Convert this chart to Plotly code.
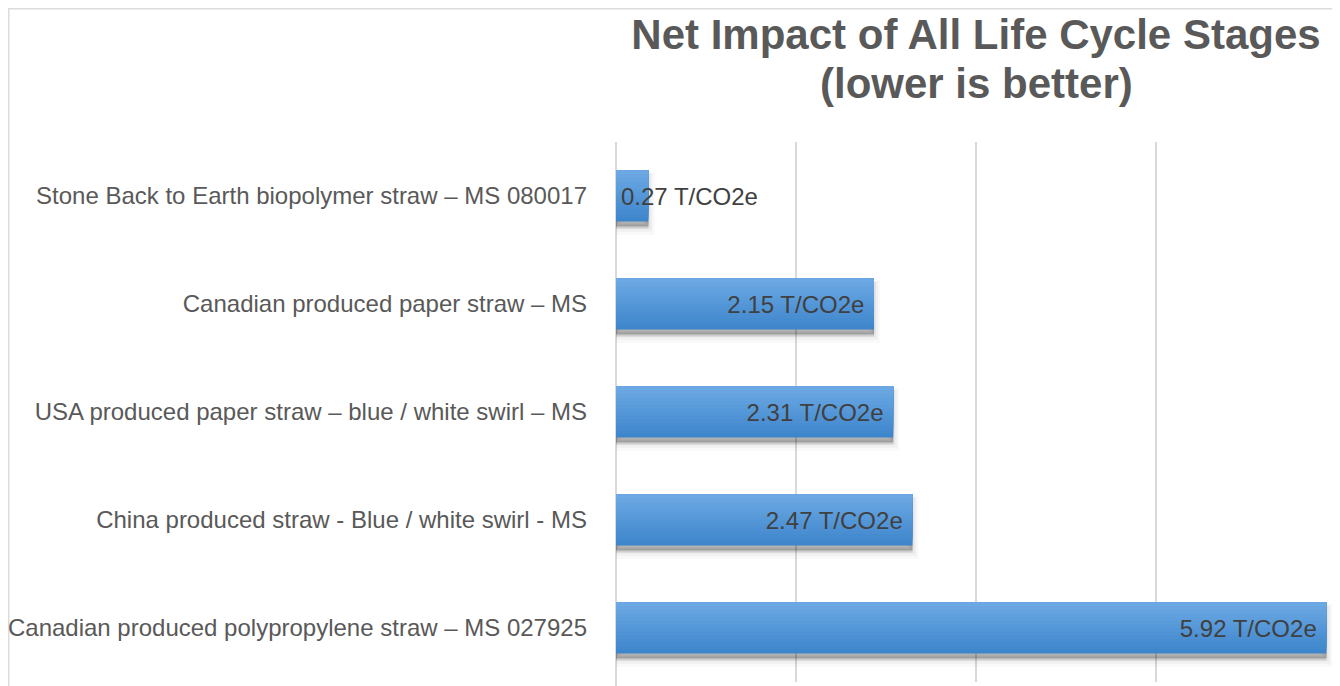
import plotly.graph_objects as go

categories = [
    "Stone Back to Earth biopolymer straw – MS 080017",
    "Canadian produced paper straw – MS",
    "USA produced paper straw – blue / white swirl – MS",
    "China produced straw - Blue / white swirl - MS",
    "Canadian produced polypropylene straw – MS 027925",
]
values = [0.27, 2.15, 2.31, 2.47, 5.92]
unit = "T/CO2e"
title_line1 = "Net Impact of All Life Cycle Stages"
title_line2 = "(lower is better)"

labels = [f"{v:.2f} {unit}" for v in values]
font_family = "Liberation Sans, Arial, Helvetica, sans-serif"

BAR_W = 0.47
TOP_RGB = (108, 168, 227)
BOT_RGB = (62, 134, 204)
N_STEPS = 14

fig = go.Figure()

# soft drop shadow (several translucent layers)
for dy, alpha, lw in [(0.07, 0.05, 12), (0.06, 0.07, 8), (0.05, 0.09, 4), (0.04, 0.12, 1)]:
    fig.add_trace(go.Bar(
        y=categories, x=values, orientation="h",
        marker=dict(color=f"rgba(0,0,0,{alpha})",
                    line=dict(width=lw, color=f"rgba(0,0,0,{alpha/2})")),
        width=BAR_W, offset=-BAR_W / 2 + dy,
        hoverinfo="skip", showlegend=False,
    ))

# vertical gradient built from stacked layers (bottom colour first)
for i in range(N_STEPS):
    f = i / (N_STEPS - 1)
    col = tuple(round(b + (t - b) * f) for b, t in zip(BOT_RGB, TOP_RGB))
    fig.add_trace(go.Bar(
        y=categories, x=values, orientation="h",
        marker=dict(color=f"rgb{col}", line=dict(width=0)),
        width=BAR_W * (1 - i / N_STEPS), offset=-BAR_W / 2,
        hoverinfo="skip", showlegend=False,
    ))

# data labels
inside_text = [t + "\u00a0" if v > 1 else "" for t, v in zip(labels, values)]
fig.add_trace(go.Bar(
    y=categories, x=values, orientation="h",
    marker=dict(color="rgba(0,0,0,0)", line=dict(width=0)),
    width=BAR_W, offset=-BAR_W / 2,
    text=inside_text, textposition="inside", insidetextanchor="end",
    constraintext="none",
    textfont=dict(family=font_family, size=24, color="#404040"),
    hovertemplate="%{y}: %{x}<extra></extra>",
    showlegend=False,
))

for c, v, t in zip(categories, values, labels):
    if v <= 1:
        fig.add_annotation(x=0, y=c, xref="x", yref="y", text=t,
                           showarrow=False, xanchor="left", xshift=3,
                           font=dict(family=font_family, size=24, color="#404040"))

W, H = 1340, 686
PL, PT, PW, PH = 608, 134, 720, 540
title_font = dict(family=font_family, size=42, color="#595959", weight="bold")

fig.add_annotation(text=title_line2, xref="paper", yref="paper",
                   x=0.5, xanchor="center", y=1 + (PT - 75) / PH, yanchor="middle",
                   showarrow=False, font=title_font)

fig.update_layout(
    width=W, height=H,
    margin=dict(l=PL, r=W - PL - PW, t=PT, b=H - PT - PH, autoexpand=False),
    paper_bgcolor="white", plot_bgcolor="white",
    barmode="overlay",
    title=dict(text=title_line1, x=0.5, xref="paper", xanchor="center",
               y=1 - 26 / H, yref="container", yanchor="middle",
               font=title_font, automargin=False),
    xaxis=dict(range=[0, 6], dtick=1.5, tick0=0, showticklabels=False,
               showgrid=True, gridcolor="#d9d9d9", gridwidth=2,
               zeroline=False, showline=False, fixedrange=True, automargin=False),
    yaxis=dict(autorange="reversed", showgrid=False, ticks="",
               ticklabelstandoff=28, automargin=False,
               tickfont=dict(family=font_family, size=24, color="#595959")),
    shapes=[
        dict(type="line", xref="paper", yref="paper", x0=-PL / PW, x1=1.05,
             y0=1 + (PT - 0.5) / PH, y1=1 + (PT - 0.5) / PH,
             line=dict(color="#dcdcdc", width=2), layer="below"),
        dict(type="line", xref="paper", yref="paper", x0=-(PL - 0.5) / PW, x1=-(PL - 0.5) / PW,
             y0=-0.05, y1=1 + PT / PH,
             line=dict(color="#dcdcdc", width=2), layer="below"),
        dict(type="line", xref="paper", yref="paper", x0=0, x1=0, y0=-0.05, y1=1,
             line=dict(color="#d9d9d9", width=2), layer="below"),
    ],
)

fig.write_html("out.html")
